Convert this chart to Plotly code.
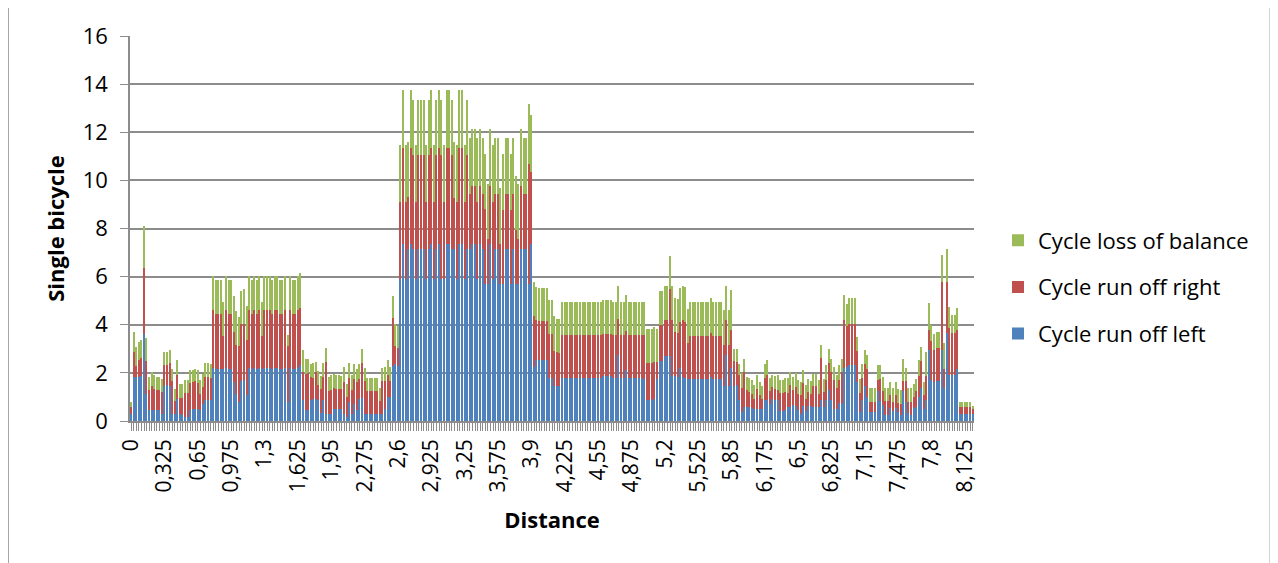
import plotly.graph_objects as go

# ---------------- data ----------------
n_points = 329  # distance 0 .. 8.2 km in steps of 0.025
categories = [("%g" % round(i * 0.025, 3)).replace(".", ",") for i in range(n_points)]

tick_labels = ["0", "0,325", "0,65", "0,975", "1,3", "1,625", "1,95", "2,275", "2,6",
               "2,925", "3,25", "3,575", "3,9", "4,225", "4,55", "4,875", "5,2", "5,525",
               "5,85", "6,175", "6,5", "6,825", "7,15", "7,475", "7,8", "8,125"]

run_off_left = [
    0.3, 1.83, 1.83, 1.83, 1.86, 3.63, 1.14, 0.47, 0.47, 0.47, 0.44, 0.44, 0.3,
    1.47, 1.5, 1.47, 0.3, 0.3, 0.93, 0.3, 0.24, 0.17, 0.17, 0.47, 0.5, 0.5,
    0.5, 0.47, 0.69, 0.86, 0.89, 0.86, 2.2, 2.15, 2.15, 2.15, 2.17, 2.2, 2.15,
    2.15, 1.62, 1.14, 0.79, 1.65, 1.7, 1.07, 2.2, 2.15, 2.2, 2.15, 2.2, 2.17,
    2.2, 2.2, 2.2, 2.15, 2.2, 2.2, 2.15, 2.15, 2.2, 0.79, 2.2, 2.15, 2.15,
    2.2, 2.31, 0.89, 0.47, 0.44, 0.89, 0.93, 0.93, 0.89, 0.33, 0.89, 0.3, 0.3,
    0.3, 0.51, 0.51, 0.51, 0.51, 0.3, 0.17, 0.79, 0.3, 0.72, 0.44, 0.93, 0.97,
    0.3, 0.3, 0.3, 0.3, 0.3, 0.3, 0.3, 0.3, 0.51, 1.0, 1.0, 2.27, 2.35,
    2.3, 5.91, 7.37, 5.91, 7.13, 7.37, 7.13, 5.91, 7.13, 7.13, 7.13, 5.91, 7.13,
    7.37, 5.91, 7.13, 7.37, 5.91, 5.91, 7.37, 7.37, 7.13, 7.13, 5.91, 7.37, 7.37,
    5.91, 7.13, 7.13, 7.34, 7.34, 5.91, 7.34, 7.13, 5.71, 5.71, 7.34, 5.91, 7.13,
    7.13, 5.71, 5.71, 7.13, 7.13, 5.71, 7.13, 5.71, 5.71, 7.13, 7.13, 7.13, 5.71,
    7.34, 2.24, 2.52, 2.52, 2.52, 2.52, 2.52, 1.79, 1.79, 1.47, 1.44, 1.44, 1.79,
    1.79, 1.79, 1.79, 1.79, 1.79, 1.79, 1.79, 1.79, 1.79, 1.79, 1.79, 1.79, 1.79,
    1.79, 1.79, 1.86, 1.86, 1.86, 1.86, 1.79, 1.79, 2.73, 1.79, 1.79, 2.13, 1.79,
    1.79, 1.79, 1.79, 1.79, 1.79, 1.76, 0.89, 0.89, 0.89, 0.93, 1.76, 2.48, 2.48,
    2.7, 2.7, 2.7, 1.86, 1.86, 1.83, 2.2, 1.83, 1.8, 1.76, 1.76, 1.76, 1.76,
    1.76, 1.76, 1.76, 1.76, 1.76, 1.83, 1.76, 1.76, 1.76, 1.76, 1.44, 2.73, 1.44,
    2.2, 1.44, 1.48, 0.86, 0.37, 0.58, 0.58, 0.58, 0.54, 0.51, 0.5, 0.5, 0.51,
    0.89, 0.86, 0.72, 0.93, 0.86, 0.86, 0.42, 0.42, 0.44, 0.58, 0.58, 0.65, 0.61,
    0.44, 0.3, 0.61, 0.42, 0.61, 0.61, 0.58, 0.58, 0.58, 0.89, 0.58, 0.86, 1.3,
    0.86, 0.5, 0.5, 0.75, 0.69, 2.22, 2.24, 2.31, 2.31, 2.31, 1.64, 0.39, 0.88,
    1.44, 0.98, 0.39, 0.39, 0.39, 1.23, 0.85, 0.67, 0.25, 0.25, 0.53, 0.42, 0.53,
    0.36, 0.25, 1.25, 0.81, 0.32, 0.25, 0.56, 0.6, 0.98, 1.37, 0.5, 0.88, 2.97,
    1.69, 1.64, 1.67, 1.67, 2.97, 1.37, 3.64, 1.92, 1.92, 1.92, 2.17, 0.28, 0.28,
    0.28, 0.28, 0.28, 0.28,
]

run_off_right = [
    0.3, 1.04, 0.46, 0.69, 0.76, 2.73, 1.34, 0.83, 0.98, 0.87, 0.86, 0.83, 0.89,
    0.84, 0.81, 0.94, 1.36, 0.53, 0.97, 0.67, 0.73, 0.99, 0.99, 1.11, 1.12, 1.15,
    1.08, 0.67, 0.72, 0.97, 0.94, 0.93, 2.4, 2.31, 2.31, 2.31, 1.36, 2.4, 2.31,
    2.31, 2.08, 2.0, 2.33, 2.4, 2.35, 2.31, 2.4, 2.31, 2.4, 2.31, 2.4, 1.36,
    2.4, 2.4, 2.4, 2.31, 2.4, 2.4, 2.31, 2.31, 2.4, 2.33, 2.4, 2.31, 2.31,
    2.4, 2.39, 1.15, 1.5, 1.55, 0.94, 0.86, 1.11, 0.59, 1.01, 0.94, 2.15, 0.95,
    1.0, 0.87, 0.83, 0.83, 0.81, 1.32, 0.83, 1.0, 1.0, 1.04, 1.18, 0.83, 1.44,
    1.35, 0.93, 0.93, 0.93, 0.93, 0.93, 0.53, 1.35, 1.14, 0.93, 0.65, 2.01, 0.77,
    0.72, 3.19, 3.99, 3.19, 2.17, 3.99, 3.91, 3.19, 3.91, 3.91, 3.91, 3.19, 3.91,
    3.99, 3.19, 3.91, 3.99, 5.13, 3.19, 3.99, 3.99, 3.91, 2.14, 3.19, 3.99, 3.99,
    3.19, 3.91, 2.32, 2.41, 2.41, 3.19, 2.41, 2.32, 3.11, 1.87, 2.41, 3.19, 2.32,
    2.32, 1.66, 3.04, 2.32, 2.32, 3.04, 2.32, 2.21, 1.87, 2.62, 2.32, 2.32, 4.98,
    3.01, 2.11, 1.66, 1.64, 1.64, 1.64, 1.64, 1.81, 1.81, 1.44, 1.43, 1.39, 1.77,
    1.77, 1.77, 1.77, 1.77, 1.77, 1.77, 1.77, 1.77, 1.77, 1.77, 1.77, 1.77, 1.77,
    1.77, 1.77, 1.74, 1.74, 1.74, 1.74, 1.77, 1.77, 1.51, 1.77, 1.77, 1.6, 1.77,
    1.77, 1.77, 1.77, 1.77, 1.77, 1.8, 1.52, 1.52, 1.52, 1.52, 0.69, 1.52, 1.52,
    1.51, 1.51, 2.77, 2.35, 1.84, 1.84, 1.91, 2.38, 2.31, 1.49, 1.79, 1.79, 1.79,
    1.79, 1.79, 1.79, 1.79, 1.79, 1.82, 1.79, 1.79, 1.79, 1.79, 1.73, 1.48, 1.73,
    1.6, 1.04, 0.97, 1.07, 1.02, 1.46, 0.72, 0.62, 0.6, 0.42, 0.84, 0.57, 0.39,
    0.9, 1.04, 0.51, 0.48, 0.48, 0.44, 0.76, 0.76, 0.76, 0.6, 0.9, 0.62, 0.8,
    0.7, 0.77, 0.97, 0.51, 0.59, 0.53, 0.86, 0.86, 0.56, 1.73, 0.62, 0.83, 1.11,
    1.18, 1.19, 0.88, 0.97, 1.35, 1.96, 1.69, 1.73, 1.73, 1.73, 1.26, 0.77, 0.9,
    0.93, 1.19, 0.42, 0.42, 0.42, 0.48, 0.89, 0.58, 0.6, 0.6, 0.56, 0.39, 0.56,
    0.38, 0.45, 0.42, 0.86, 0.49, 0.56, 0.42, 0.63, 0.9, 1.11, 0.59, 1.0, 0.81,
    1.63, 1.33, 1.37, 1.37, 2.79, 0.79, 2.12, 1.95, 1.75, 1.75, 1.63, 0.32, 0.32,
    0.32, 0.32, 0.32, 0.22,
]

loss_of_balance = [
    0.18, 0.83, 0.78, 0.76, 0.76, 1.73, 0.98, 0.53, 0.59, 0.56, 0.53, 0.56, 0.54,
    0.54, 0.54, 0.53, 0.51, 0.51, 0.62, 0.55, 0.58, 0.56, 0.56, 0.52, 0.48, 0.52,
    0.52, 0.55, 0.56, 0.58, 0.58, 0.59, 1.41, 1.41, 1.41, 1.41, 1.41, 1.41, 1.41,
    1.41, 1.48, 1.42, 1.2, 1.35, 1.45, 1.42, 1.41, 1.41, 1.41, 1.41, 1.41, 1.41,
    1.41, 1.41, 1.41, 1.41, 1.41, 1.41, 1.41, 1.41, 1.41, 0.44, 1.41, 1.41, 1.41,
    1.41, 1.45, 0.9, 0.62, 0.6, 0.55, 0.62, 0.41, 0.6, 0.54, 0.58, 0.6, 0.58,
    0.6, 0.59, 0.59, 0.56, 0.54, 0.62, 0.55, 0.63, 0.6, 0.59, 0.55, 0.59, 0.57,
    0.57, 0.57, 0.57, 0.57, 0.57, 0.57, 0.56, 0.57, 0.59, 0.59, 0.59, 0.91, 0.92,
    0.93, 2.35, 2.38, 2.35, 2.3, 2.38, 2.28, 2.35, 2.28, 2.28, 2.28, 2.35, 2.28,
    2.38, 2.35, 2.28, 2.38, 2.28, 2.35, 2.38, 2.38, 2.28, 2.32, 2.35, 2.38, 2.38,
    2.35, 2.28, 2.31, 2.4, 2.4, 2.66, 2.4, 2.31, 2.28, 2.28, 2.4, 2.35, 2.31,
    2.31, 2.33, 2.35, 2.31, 2.31, 2.35, 2.31, 2.25, 2.28, 2.4, 2.31, 2.31, 2.47,
    2.35, 1.43, 1.39, 1.38, 1.38, 1.38, 1.38, 1.41, 1.41, 1.45, 1.37, 1.41, 1.37,
    1.37, 1.37, 1.37, 1.37, 1.37, 1.37, 1.37, 1.37, 1.37, 1.37, 1.37, 1.37, 1.37,
    1.37, 1.37, 1.41, 1.41, 1.41, 1.41, 1.37, 1.37, 1.38, 1.37, 1.37, 1.52, 1.37,
    1.37, 1.37, 1.37, 1.37, 1.37, 1.38, 1.4, 1.4, 1.4, 1.46, 1.36, 1.39, 1.39,
    1.41, 1.41, 1.37, 1.41, 1.41, 1.41, 1.42, 1.41, 1.46, 1.39, 1.38, 1.38, 1.38,
    1.38, 1.38, 1.38, 1.38, 1.38, 1.46, 1.38, 1.38, 1.38, 1.38, 1.43, 1.41, 1.43,
    1.63, 0.52, 0.55, 0.45, 0.61, 0.55, 0.53, 0.6, 0.55, 0.57, 0.56, 0.55, 0.54,
    0.59, 0.62, 0.56, 0.49, 0.52, 0.6, 0.51, 0.51, 0.59, 0.61, 0.56, 0.56, 0.59,
    0.55, 0.55, 0.55, 0.55, 0.56, 0.51, 0.53, 0.53, 0.55, 0.55, 0.56, 0.62, 0.57,
    0.55, 0.55, 0.52, 0.59, 0.55, 1.04, 0.92, 1.08, 1.08, 1.08, 0.58, 0.58, 0.59,
    0.57, 0.56, 0.58, 0.58, 0.58, 0.6, 0.57, 0.58, 0.54, 0.54, 0.55, 0.58, 0.55,
    0.6, 0.57, 0.91, 0.53, 0.56, 0.56, 0.55, 0.53, 0.64, 0.6, 0.55, 0.99, 1.11,
    0.69, 0.65, 0.67, 0.67, 1.15, 1.09, 1.39, 0.87, 0.72, 0.72, 0.91, 0.17, 0.17,
    0.17, 0.17, 0.17, 0.14,
]

# ---------------- figure ----------------
FONT = "'Open Sans', Lato, sans-serif"
W, H = 1278, 563
# plot area in figure pixels (the page adds an 8px body margin)
PL, PR, PT, PB = 122, 966, 28, 413
pw, ph = PR - PL, PB - PT

fig = go.Figure()
series = [
    ("Cycle run off left", run_off_left, "#4F81BD", 3),
    ("Cycle run off right", run_off_right, "#C0504D", 2),
    ("Cycle loss of balance", loss_of_balance, "#9BBB59", 1),
]
for name, vals, col, rank in series:
    fig.add_trace(go.Bar(
        x=categories[:len(vals)], y=vals, name=name, legendgroup=name, legendrank=rank,
        marker=dict(color=col, line=dict(width=0)),
    ))

tick_text = [c if c in tick_labels else "" for c in categories]


def px_x(px):
    return (px - PL) / pw


def px_y(py):
    return (PB - py) / ph


fig.update_layout(
    width=W, height=H,
    margin=dict(l=PL, r=W - PR, t=PT, b=H - PB, autoexpand=False),
    barmode="stack", bargap=0.45,
    paper_bgcolor="white", plot_bgcolor="white",
    font=dict(family=FONT, size=22, color="black"),
    showlegend=True,
    legend=dict(
        x=px_x(990), y=px_y(279), xanchor="left", yanchor="middle",
        traceorder="grouped", tracegroupgap=15,
        font=dict(family=FONT, size=22, color="black"),
        itemwidth=30, bgcolor="rgba(0,0,0,0)",
    ),
    xaxis=dict(
        type="category", tickmode="array", tickvals=categories, ticktext=tick_text,
        tickangle=-90, ticks="outside", ticklen=8, tickcolor="#8C8C8C", tickwidth=1,
        showline=True, linecolor="#8C8C8C", linewidth=1.5, showgrid=False,
        tickfont=dict(family=FONT, size=21),
        title=dict(text="<b>Distance</b>", font=dict(family=FONT, size=22), standoff=21),
        range=[-0.5, n_points - 0.5],
    ),
    yaxis=dict(
        range=[0, 16], dtick=2, showgrid=True, gridcolor="#8C8C8C", gridwidth=1.5,
        showline=True, linecolor="#8C8C8C", linewidth=1.5,
        ticks="outside", ticklen=8, tickcolor="#8C8C8C", ticklabelstandoff=8,
        tickfont=dict(family=FONT, size=22), zeroline=False,
        title=dict(text="<b>Single bicycle</b>", font=dict(family=FONT, size=22), standoff=12),
    ),
)

# chart-area border
fig.add_shape(type="rect", xref="paper", yref="paper",
              x0=px_x(0.5), x1=px_x(1262), y0=px_y(580), y1=px_y(-0.5),
              line=dict(color="#A6A6A6", width=1), fillcolor="rgba(0,0,0,0)", layer="below")

fig.write_html("out.html")
